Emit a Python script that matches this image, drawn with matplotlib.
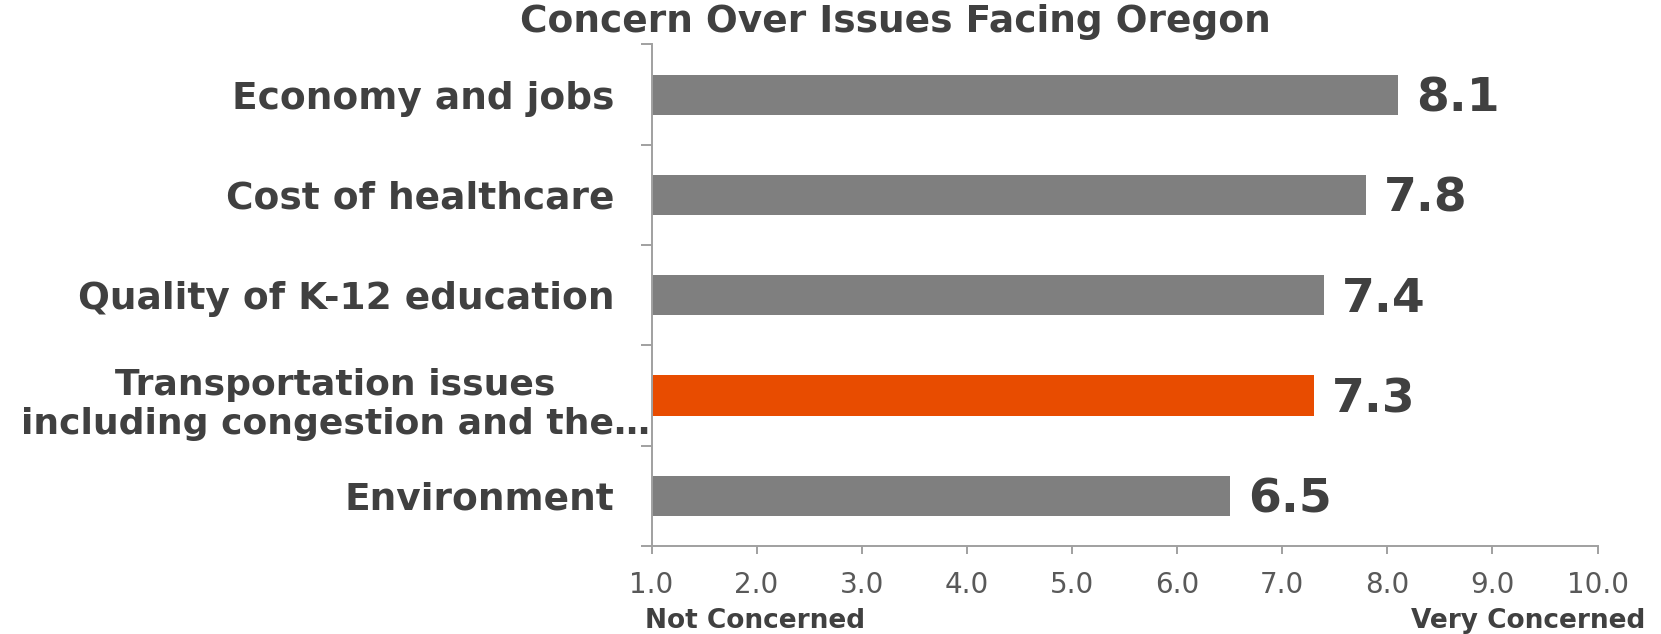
import matplotlib
matplotlib.use("Agg")
import matplotlib.pyplot as plt
from matplotlib.ticker import FixedLocator
import matplotlib.transforms as mtransforms

categories = ["Economy and jobs", "Cost of healthcare", "Quality of K-12 education",
              "Transportation issues\nincluding congestion and the\u2026", "Environment"]
values = [8.1, 7.8, 7.4, 7.3, 6.5]
highlight = [False, False, False, True, False]
xticks = [1.0, 2.0, 3.0, 4.0, 5.0, 6.0, 7.0, 8.0, 9.0, 10.0]
title = "Concern Over Issues Facing Oregon"
left_label = "Not Concerned"
right_label = "Very Concerned"

TEXT = "#404040"
AXC = "#a0a0a0"
GRAY = "#7f7f7f"
ORANGE = "#e84c00"

W, H = 1661, 634
plt.rcParams['font.family'] = ['DejaVu Sans']
fig = plt.figure(figsize=(W / 100, H / 100), dpi=100)
ax = fig.add_axes([651.5 / W, 1 - 546 / H, (1597.5 - 651.5) / W, (546 - 44.5) / H])

n = len(categories)
ypos = list(range(n))[::-1]
colors = [ORANGE if h else GRAY for h in highlight]
ax.barh(ypos, [v - 1.0 for v in values], left=1.0, height=0.4, color=colors)

for y, v in zip(ypos, values):
    ax.annotate(f"{v:.1f}", xy=(v, y), xytext=(13, -3), textcoords="offset points",
                ha="left", va="center", fontsize=34, fontweight="bold", color=TEXT)

ax.set_xlim(1.0, 10.0)
ax.set_ylim(-0.5, n - 0.5)
ax.set_xticks(xticks)
ax.set_xticklabels([f"{t:.1f}" for t in xticks], fontsize=20, color="#595959")
ax.tick_params(axis="x", length=6, width=1.4, color=AXC, pad=12)

ax.set_yticks(ypos)
labels = ax.set_yticklabels(categories, fontsize=27, fontweight="bold", color=TEXT,
                            multialignment="center", linespacing=1.2)
ax.tick_params(axis="y", which="major", length=0, pad=27)
ax.yaxis.set_minor_locator(FixedLocator([i - 0.5 for i in range(n + 1)]))
ax.tick_params(axis="y", which="minor", length=8, width=1.4, color=AXC)

# long wrapped label sits a little further right, as in the source chart
for lab in labels:
    if "\n" in lab.get_text():
        lab.set_fontsize(26)
        lab.set_transform(lab.get_transform() +
                          mtransforms.ScaledTranslation(26 / 72, -2 / 72, fig.dpi_scale_trans))

for s in ["top", "right"]:
    ax.spines[s].set_visible(False)
for s in ["left", "bottom"]:
    ax.spines[s].set_color(AXC)
    ax.spines[s].set_linewidth(1.4)

fig.text(895 / W, 1 - 22 / H, title, ha="center", va="center", fontsize=27,
         fontweight="bold", color=TEXT)
fig.text(645 / W, 1 - 621 / H, left_label, ha="left", va="center", fontsize=19,
         fontweight="bold", color=TEXT)
fig.text(1645 / W, 1 - 621 / H, right_label, ha="right", va="center", fontsize=19,
         fontweight="bold", color=TEXT)

fig.savefig("out.png", dpi=100)
